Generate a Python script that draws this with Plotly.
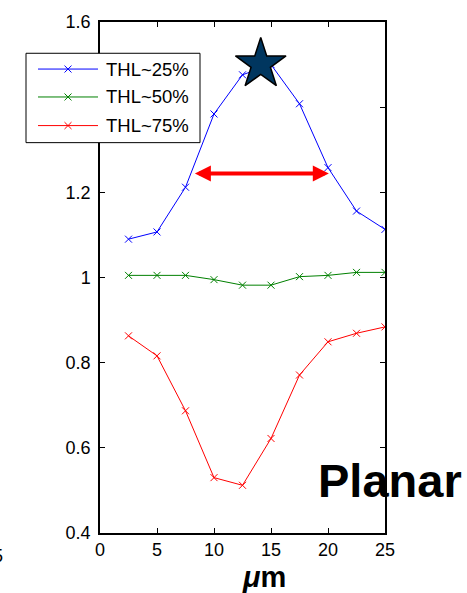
import plotly.graph_objects as go

# Position across the structure (µm)
positions = [2.5, 5, 7.5, 10, 12.5, 15, 17.5, 20, 22.5, 25]

# Normalised response for each threshold level
thl_25 = [1.090, 1.107, 1.212, 1.384, 1.476, 1.500, 1.408, 1.258, 1.156, 1.113]
thl_50 = [1.005, 1.005, 1.005, 0.995, 0.982, 0.982, 1.002, 1.005, 1.012, 1.012]
thl_75 = [0.863, 0.816, 0.687, 0.530, 0.512, 0.622, 0.771, 0.849, 0.869, 0.884]

series_names = ["THL~25%", "THL~50%", "THL~75%"]
series_colors = ["#0000ff", "#008000", "#ff0000"]

x_ticks = [0, 5, 10, 15, 20, 25]
y_ticks = [0.4, 0.6, 0.8, 1.0, 1.2, 1.4, 1.6]
y_tick_labels = ["0.4", "0.6", "0.8", "1", "1.2", "1.4", "1.6"]

# Peak marker and width arrow
star_x, star_y = [14.1], [1.501]
arrow_left, arrow_right, arrow_y = 8.19, 20.07, 1.244

FONT = "Liberation Sans, Arial, Helvetica, sans-serif"

W, H = 467, 593
ML, MR, MT, MB = 100, 82, 15, 60
PW, PH = W - ML - MR, H - MT - MB


def px_x(p):
    """Pixel column -> paper x."""
    return (p - ML) / PW


def px_y(p):
    """Pixel row -> paper y."""
    return (H - MB - p) / PH


fig = go.Figure()
for name, color, values in zip(series_names, series_colors,
                               [thl_25, thl_50, thl_75]):
    fig.add_trace(go.Scatter(
        x=positions, y=values, name=name, mode="lines+markers",
        line=dict(color=color, width=1),
        marker=dict(symbol="x-thin", size=7,
                    line=dict(color=color, width=1), color=color),
        showlegend=False,
    ))

fig.add_trace(go.Scatter(
    x=star_x, y=star_y, mode="markers", showlegend=False,
    marker=dict(symbol="star", size=38, color="#00365f",
                line=dict(color="black", width=1.5)),
))

axis_common = dict(
    showgrid=False, zeroline=False, showline=True, linecolor="black",
    linewidth=1.5, mirror="ticks", ticks="inside", ticklen=5,
    tickcolor="black", tickwidth=1,
    tickfont=dict(family=FONT, size=18, color="black"),
)

fig.update_xaxes(range=[0, 25], tickvals=x_ticks, **axis_common)
fig.update_yaxes(range=[0.4, 1.6], tickvals=y_ticks, ticktext=y_tick_labels,
                 ticklabelstandoff=4, **axis_common)

# Double-headed arrow marking the peak width
fig.add_annotation(
    x=arrow_right, y=arrow_y, ax=arrow_left, ay=arrow_y,
    xref="x", yref="y", axref="x", ayref="y",
    text="", showarrow=True, arrowhead=2, startarrowhead=2,
    arrowside="end+start", arrowsize=0.8, startarrowsize=0.8,
    arrowwidth=4, arrowcolor="#ff0000", standoff=0, startstandoff=0,
)

# Boxed legend with long line samples
box_l, box_r, box_t, box_b = 26, 200, 46.7, 137.3
fig.add_shape(type="rect", xref="paper", yref="paper",
              x0=px_x(box_l), x1=px_x(box_r), y0=px_y(box_b), y1=px_y(box_t),
              fillcolor="white", line=dict(color="black", width=1),
              layer="above")
row_y = [62.7, 91.0, 120.0]
line_l, line_r, mark_x, mark_r, text_x = 38, 98, 68, 3.5, 104
for name, color, ry in zip(series_names, series_colors, row_y):
    fig.add_shape(type="line", xref="paper", yref="paper",
                  x0=px_x(line_l), x1=px_x(line_r), y0=px_y(ry), y1=px_y(ry),
                  line=dict(color=color, width=1), layer="above")
    for s in (1, -1):
        fig.add_shape(type="line", xref="paper", yref="paper",
                      x0=px_x(mark_x - mark_r), x1=px_x(mark_x + mark_r),
                      y0=px_y(ry - s * mark_r), y1=px_y(ry + s * mark_r),
                      line=dict(color=color, width=1), layer="above")
    fig.add_annotation(
        text=name, xref="paper", yref="paper",
        x=px_x(text_x), y=px_y(ry), xanchor="left", yanchor="middle",
        showarrow=False, font=dict(family=FONT, size=18.5, color="black"),
    )

fig.add_annotation(
    text="<b>Planar</b>", xref="paper", yref="paper",
    x=1.0175, y=0.103, xanchor="center", yanchor="middle",
    showarrow=False, font=dict(family=FONT, size=47, color="black"),
)

fig.add_annotation(
    text="<b><i>μ</i>m</b>", xref="paper", yref="paper",
    x=0.575, y=-0.087, xanchor="center", yanchor="middle",
    showarrow=False, font=dict(family=FONT, size=29, color="black"),
)

fig.add_annotation(
    text="5", xref="paper", yref="paper",
    x=-0.333, y=-0.045, xanchor="right", yanchor="middle",
    showarrow=False, font=dict(family=FONT, size=18, color="black"),
)

fig.update_layout(
    width=W, height=H,
    margin=dict(l=ML, r=MR, t=MT, b=MB),
    paper_bgcolor="white", plot_bgcolor="white",
    showlegend=False,
)

fig.write_html("out.html")
